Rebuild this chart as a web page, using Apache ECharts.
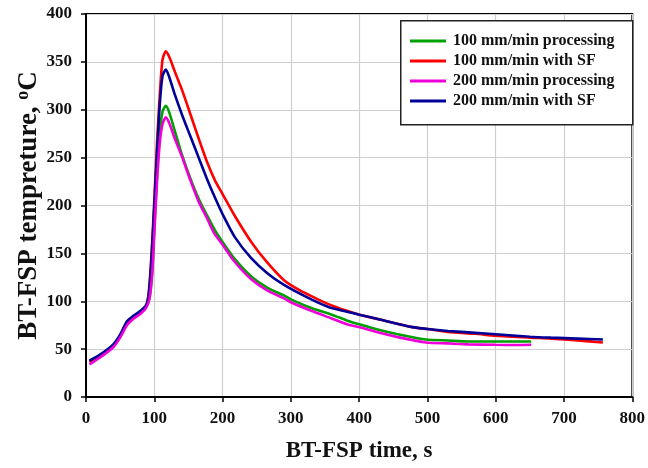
<!DOCTYPE html>
<html>
<head>
<meta charset="utf-8">
<script src="https://cdn.jsdelivr.net/npm/echarts@6/dist/echarts.min.js"></script>
<style>html,body{margin:0;padding:0;background:#fff}#c{width:648px;height:468px}</style>
</head>
<body>
<div id="c"></div>
<script>
var seriesNames = ['100 mm/min processing', '100 mm/min with SF', '200 mm/min processing', '200 mm/min with SF'];
var seriesColors = ['#00a000', '#ff0000', '#f000d8', '#000099'];
var xTicks = [0, 100, 200, 300, 400, 500, 600, 700, 800];
var yTicks = [0, 50, 100, 150, 200, 250, 300, 350, 400];

var timeGreen = [5,20,40,50,60,70,80,88,93,97,100,104,108,112,117,122,130,141,153,165,177,189,200,218,242,266,290,300,330,360,382,400,430,460,498,530,560,600,630,652];
var tempGreen = [37,43,54,64,77,83,88,94,103,130,175,230,275,298,304,297,278,252,228,207,190,174,162,144,126,114,106,102,93,86,80,76,70,65,60,59,58,58,58,58];

var timeRed = [5,20,40,50,60,70,80,88,92,96,100,104,108,112,117,122,130,141,153,165,177,189,200,218,242,266,290,314,334,355,382,400,430,478,500,530,570,600,650,681,720,757];
var tempRed = [37,43,54,64,78,84,89,95,110,150,205,265,315,352,361,355,340,320,295,270,246,226,212,189,162,140,122,111,104,97,90,86,81,73,71,68,66,64,62,61,59,57];

var timeMagenta = [5,20,40,50,60,70,80,88,93,97,100,104,108,112,117,122,130,141,153,165,177,187,200,218,242,266,290,300,330,360,382,400,430,460,498,530,560,600,630,652];
var tempMagenta = [34,41,52,62,75,82,87,93,103,130,170,225,265,285,292,286,270,250,226,204,187,172,159,141,123,111,103,99,90,82,76,73,67,62,57,56,55,54.5,54.3,54.5];

var timeBlue = [5,20,40,50,60,70,80,88,92,96,100,104,108,112,117,122,130,141,153,165,177,189,200,218,242,266,290,324,355,382,400,430,478,500,530,570,600,650,681,720,757];
var tempBlue = [38,44,55,65,79,85,90,96,108,145,200,255,305,335,342,334,316,294,272,250,228,208,191,167,145,129,117,104,94,89,86,81,73,71,69,67,65.5,63,62,61,60];

function pairs(t, v) { var out = []; for (var i = 0; i < t.length; i++) out.push([t[i], v[i]]); return out; }
var seriesData = [pairs(timeGreen, tempGreen), pairs(timeRed, tempRed), pairs(timeMagenta, tempMagenta), pairs(timeBlue, tempBlue)];

var FONT = 'Liberation Serif';
var chart = echarts.init(document.getElementById('c'), null, {renderer: 'canvas'});
var drawOrder = [0, 1, 3, 2];
var series = drawOrder.map(function (i) {
  return {
    name: seriesNames[i], type: 'line', data: seriesData[i],
    showSymbol: false, symbol: 'none', smooth: 0.25,
    lineStyle: {color: seriesColors[i], width: 2.6},
    itemStyle: {color: seriesColors[i]},
    z: 3 + drawOrder.indexOf(i), animation: false
  };
});
chart.setOption({
  animation: false,
  backgroundColor: '#fff',
  grid: {left: 86, right: 9, top: 14, bottom: 68, show: true, borderColor: '#000', borderWidth: 2, backgroundColor: 'transparent'},
  graphic: [{type: 'rect', left: 400, top: 20, z: 50, shape: {width: 232, height: 104}, style: {fill: '#fff', stroke: '#222', lineWidth: 1.5}}],
  legend: {
    data: seriesNames, orient: 'vertical', left: 405, top: 32, z: 60,
    icon: 'rect', itemWidth: 36, itemHeight: 3, itemGap: 2, padding: [0, 0, 0, 5],
    textStyle: {fontFamily: FONT, fontWeight: 'bold', fontSize: 16, color: '#111', padding: [0,0,0,2], lineHeight: 18}
  },
  xAxis: {
    type: 'value', min: 0, max: 800, interval: 100,
    name: 'BT-FSP time, s', nameLocation: 'middle', nameGap: 43, nameMoveOverlap: false,
    nameTextStyle: {fontFamily: FONT, fontWeight: 'bold', fontSize: 23, color: '#111'},
    axisLine: {lineStyle: {color: '#000', width: 2}},
    axisTick: {show: true, inside: false, length: 5, lineStyle: {color: '#000', width: 1.5}},
    axisLabel: {margin: 13, fontFamily: FONT, fontWeight: 'bold', fontSize: 17, color: '#111',
      formatter: function (v) { return xTicks.indexOf(v) >= 0 ? String(v) : ''; }},
    splitLine: {show: true, lineStyle: {color: '#cfcfcf', width: 1.2}}
  },
  yAxis: {
    type: 'value', min: 0, max: 400, interval: 50,
    name: 'BT-FSP tempreture, {sup|o}C', nameLocation: 'middle', nameGap: 42, nameRotate: 90, nameMoveOverlap: false,
    nameTextStyle: {fontFamily: FONT, fontWeight: 'bold', fontSize: 27, color: '#111',
      rich: {sup: {fontFamily: FONT, fontWeight: 'bold', fontSize: 18, color: '#111', verticalAlign: 'bottom', padding: [0, 0, 12, 0]}}},
    axisLine: {show: true, lineStyle: {color: '#000', width: 2}},
    axisTick: {show: true, inside: false, length: 5, lineStyle: {color: '#000', width: 1.5}},
    axisLabel: {margin: 14, fontFamily: FONT, fontWeight: 'bold', fontSize: 17, color: '#111',
      formatter: function (v) { return yTicks.indexOf(v) >= 0 ? String(v) : ''; }},
    splitLine: {show: true, lineStyle: {color: '#cfcfcf', width: 1.2}}
  },
  series: series
});
</script>
</body>
</html>
